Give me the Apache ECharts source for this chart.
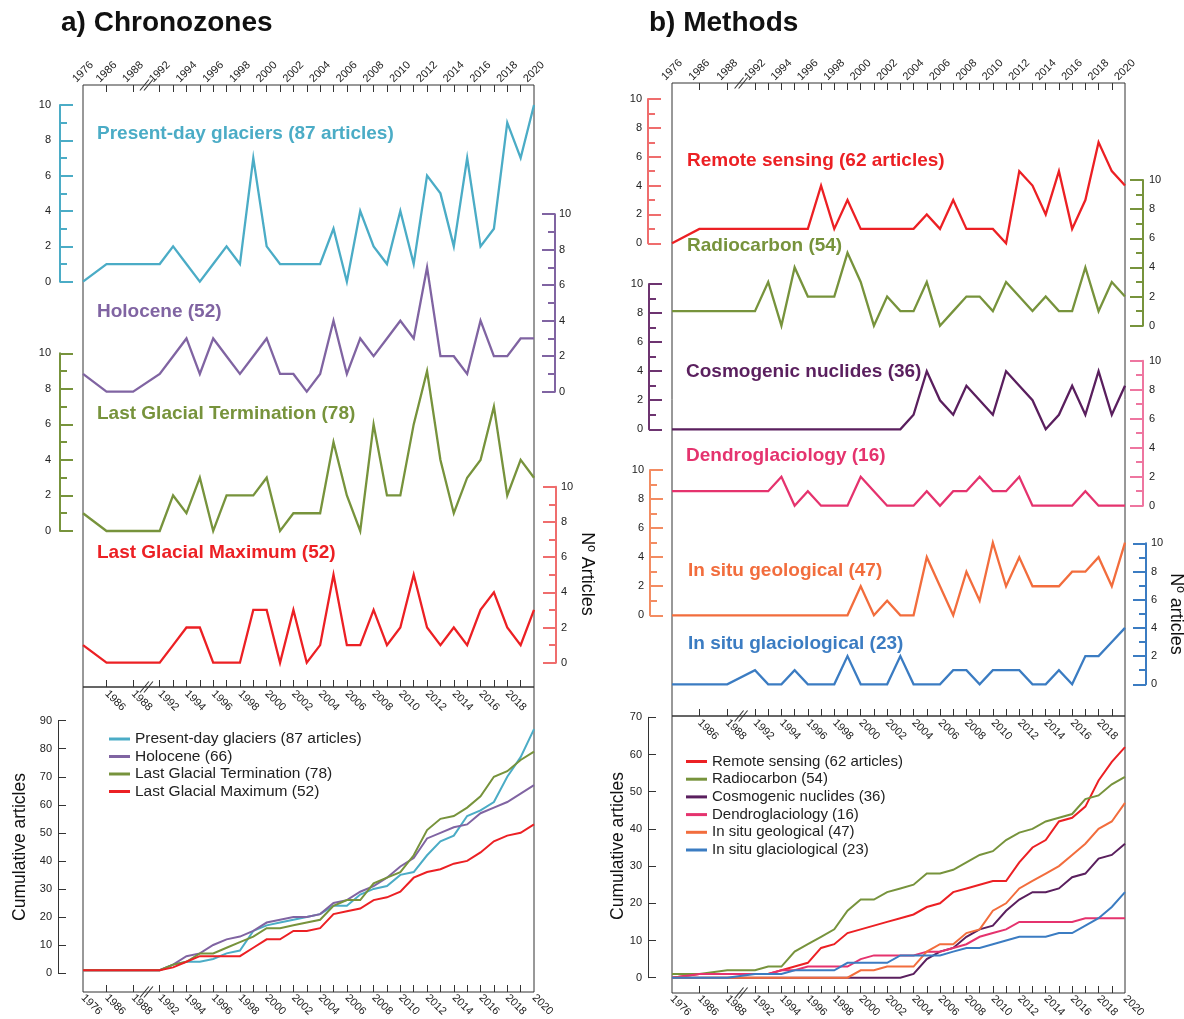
<!DOCTYPE html>
<html>
<head>
<meta charset="utf-8">
<script src="https://cdn.jsdelivr.net/npm/echarts@6/dist/echarts.min.js"></script>
<style>html,body{margin:0;padding:0;background:#fff}#c{width:1184px;height:1019px}</style>
</head>
<body>
<div id="c"></div>
<script>
// ---------------- DATA ----------------
const years = [1976,1986,1988,1992,1993,1994,1995,1996,1997,1998,1999,2000,2001,2002,2003,2004,2005,2006,2007,2008,2009,2010,2011,2012,2013,2014,2015,2016,2017,2018,2019,2020];
const tickYears = [1986,1988,1992,1993,1994,1995,1996,1997,1998,1999,2000,2001,2002,2003,2004,2005,2006,2007,2008,2009,2010,2011,2012,2013,2014,2015,2016,2017,2018,2019];
const labelYearsOuter = [1976,1986,1988,1992,1994,1996,1998,2000,2002,2004,2006,2008,2010,2012,2014,2016,2018,2020];
const labelYearsInner = [1986,1988,1992,1994,1996,1998,2000,2002,2004,2006,2008,2010,2012,2014,2016,2018];

// Panel a: annual articles per chronozone
const presentDay   = [0,1,1,1, 2,1,0,1,2,1,7,2,1,1,1,1,3,0,4,2,1,4,1,6,5,2,7,2,3,9,7,10];
const holocene     = [1,0,0,1, 2,3,1,3,2,1,2,3,1,1,0,1,4,1,3,2,3,4,3,7,2,2,1,4,2,2,3,3];
const lastGlacialTerm = [1,0,0,0, 2,1,3,0,2,2,2,3,0,1,1,1,5,2,0,6,2,2,6,9,4,1,3,4,7,2,4,3];
const lastGlacialMax  = [1,0,0,0, 1,2,2,0,0,0,3,3,0,3,0,1,5,1,1,3,1,2,5,2,1,2,1,3,4,2,1,3];
// Panel a: cumulative
const cumPresentDay = [1,1,1,1, 3,4,4,5,7,8,15,17,18,19,20,21,24,24,28,30,31,35,36,42,47,49,56,58,61,70,77,87];
const cumHolocene   = [1,1,1,1, 3,6,7,10,12,13,15,18,19,20,20,21,25,26,29,31,34,38,41,48,50,52,53,57,59,61,64,67];
const cumLGT        = [1,1,1,1, 3,4,7,7,9,11,13,16,16,17,18,19,24,26,26,32,34,36,42,51,55,56,59,63,70,72,76,79];
const cumLGM        = [1,1,1,1, 2,4,6,6,6,6,9,12,12,15,15,16,21,22,23,26,27,29,34,36,37,39,40,43,47,49,50,53];

// Panel b: annual articles per method
const remoteSensing = [0,1,1,1, 1,1,1,1,4,1,3,1,1,1,1,1,2,1,3,1,1,1,0,5,4,2,5,1,3,7,5,4];
const radiocarbon   = [1,1,1,1, 3,0,4,2,2,2,5,3,0,2,1,1,3,0,1,2,2,1,3,2,1,2,1,1,4,1,3,2];
const cosmogenic    = [0,0,0,0, 0,0,0,0,0,0,0,0,0,0,0,1,4,2,1,3,2,1,4,3,2,0,1,3,1,4,1,3];
const dendro        = [1,1,1,1, 1,2,0,1,0,0,0,2,1,0,0,0,1,0,1,1,2,1,1,2,0,0,0,0,1,0,0,0];
const inSituGeo     = [0,0,0,0, 0,0,0,0,0,0,0,2,0,1,0,0,4,2,0,3,1,5,2,4,2,2,2,3,3,4,2,5];
const inSituGlacio  = [0,0,0,1, 0,0,1,0,0,0,2,0,0,0,2,0,0,0,1,1,0,1,1,1,0,0,1,0,2,2,3,4];
// Panel b: cumulative
const cumRemote  = [0,1,1,1, 1,2,3,4,8,9,12,13,14,15,16,17,19,20,23,24,25,26,26,31,35,37,42,43,46,53,58,62];
const cumRadio   = [1,1,2,2, 3,3,7,9,11,13,18,21,21,23,24,25,28,28,29,31,33,34,37,39,40,42,43,44,48,49,52,54];
const cumCosmo   = [0,0,0,0, 0,0,0,0,0,0,0,0,0,0,0,1,5,7,8,11,13,14,18,21,23,23,24,27,28,32,33,36];
const cumDendro  = [0,1,1,1, 1,2,2,3,3,3,3,5,6,6,6,6,7,7,8,9,11,12,13,15,15,15,15,15,16,16,16,16];
const cumGeo     = [0,0,0,0, 0,0,0,0,0,0,0,2,2,3,3,3,7,9,9,12,13,18,20,24,26,28,30,33,36,40,42,47];
const cumGlacio  = [0,0,0,1, 1,1,2,2,2,2,4,4,4,4,6,6,6,6,7,8,8,9,10,11,11,11,12,12,14,16,19,23];

// ---------------- BROKEN YEAR AXIS (scale definition) ----------------
// positions of 1986, 1988 and 1992 on a "one unit = one year" axis starting at 1976
const breakA = [1.76, 3.75, 5.74];
const breakB = [2.07, 4.18, 6.28];
function axisPos(y, br) {
  if (y <= 1986) return (y - 1976) / 10 * br[0];
  if (y <= 1988) return br[0] + (y - 1986) / 2 * (br[1] - br[0]);
  if (y <= 1992) return br[1] + (y - 1988) / 4 * (br[2] - br[1]);
  return br[2] + (y - 1992);
}
function yearLabel(v, br) {
  for (const y of labelYearsOuter) if (Math.abs(axisPos(y, br) - v) < 1e-6) return String(y);
  return '';
}

// ---------------- STYLE ----------------
const FONT = '"Liberation Sans", Arial, Helvetica, sans-serif';
const C = {
  pd: '#4bacc6', hol: '#8064a2', lgt: '#77933c', lgm: '#ec2024',
  rs: '#ec2024', rc: '#77933c', cn: '#5a1f5e', dg: '#e5336e', geo: '#f26d3d', gla: '#3b7cc2'
};
const AXC = {
  pd: '#4bacc6', hol: '#8064a2', lgt: '#77933c', lgm: '#ef6d6d',
  rs: '#ef6d6d', rc: '#77933c', cn: '#6d3470', dg: '#ee76a0', geo: '#f38c62', gla: '#3b7cc2'
};

const P = {
  A: {left: 83, right: 534, top: 85, mid: 687, bottom: 992, br: breakA},
  B: {left: 672, right: 1125, top: 83, mid: 716, bottom: 993, br: breakB}
};

const grids = [], xAxes = [], yAxes = [], series = [];
function addGrid(top, bottom, p) {
  grids.push({left: p.left, top: top, width: p.right - p.left, height: bottom - top,
    containLabel: false, outerBoundsMode: 'none', show: false});
  return grids.length - 1;
}
function hiddenX(gi, p) {
  xAxes.push({type: 'value', gridIndex: gi, min: 0, max: axisPos(2020, p.br), show: false,
    axisLine: {onZero: false}, splitLine: {show: false}});
  return xAxes.length - 1;
}
function hiddenY(gi) {
  yAxes.push({type: 'value', gridIndex: gi, min: 0, max: 1, show: false, axisLine: {onZero: false}, splitLine: {show: false}});
  return yAxes.length - 1;
}
function frameX(gi, p, position, labelYears, labelOpts) {
  xAxes.push({type: 'value', gridIndex: gi, position: position, min: 0, max: axisPos(2020, p.br),
    axisLine: {show: false, onZero: false}, splitLine: {show: false},
    axisTick: {show: true, inside: true, length: 7, lineStyle: {color: '#333', width: 1},
      customValues: tickYears.map(y => axisPos(y, p.br))},
    axisLabel: Object.assign({show: true, fontSize: 11, color: '#222', fontFamily: FONT,
      customValues: labelYears.map(y => axisPos(y, p.br)), formatter: v => yearLabel(v, p.br)}, labelOpts)
  });
  return xAxes.length - 1;
}

function addFrame(p) {
  // upper box
  const g1 = addGrid(p.top, p.mid, p);
  grids[g1].show = true; grids[g1].borderColor = '#333'; grids[g1].borderWidth = 1; grids[g1].backgroundColor = 'transparent';
  const xt = frameX(g1, p, 'top', labelYearsOuter, {rotate: -45, margin: 13, align: 'center', verticalAlign: 'middle'});
  frameX(g1, p, 'bottom', labelYearsInner, {rotate: -45, margin: 5});
  hiddenY(g1);
  // lower box
  const g2 = addGrid(p.mid, p.bottom, p);
  grids[g2].show = true; grids[g2].borderColor = '#333'; grids[g2].borderWidth = 1; grids[g2].backgroundColor = 'transparent';
  frameX(g2, p, 'bottom', labelYearsOuter, {rotate: -45, margin: 4});
  hiddenY(g2);
  return xt;
}

function addSpark(p, y10, y0, side, lineX, key, values, labelMargin) {
  const gi = addGrid(y10, y0, p);
  const xi = hiddenX(gi, p);
  const offset = side === 'left' ? p.left - lineX : lineX - p.right;
  yAxes.push({type: 'value', gridIndex: gi, position: side, offset: offset, min: 0, max: 10, interval: 2,
    axisLine: {show: true, onZero: false, lineStyle: {color: AXC[key], width: 2}},
    axisTick: {show: true, inside: true, length: 13, lineStyle: {color: AXC[key], width: 2}},
    minorTick: {show: true, splitNumber: 2, length: 7, lineStyle: {color: AXC[key], width: 2}},
    splitLine: {show: false}, minorSplitLine: {show: false},
    axisLabel: {show: true, margin: labelMargin, fontSize: 11, color: '#222', fontFamily: FONT}
  });
  const yi = yAxes.length - 1;
  series.push({type: 'line', name: key + '-annual', xAxisIndex: xi, yAxisIndex: yi,
    data: years.map((y, i) => [axisPos(y, p.br), values[i]]),
    symbol: 'none', silent: true, clip: false, color: C[key],
    lineStyle: {color: C[key], width: 2.3, join: 'miter'}, z: 3});
}

function addCum(p, y10top, y0, maxV, lineX, list) {
  const gi = addGrid(y10top, y0, p);
  const xi = hiddenX(gi, p);
  yAxes.push({type: 'value', gridIndex: gi, position: 'left', offset: p.left - lineX, min: 0, max: maxV, interval: 10,
    axisLine: {show: true, onZero: false, lineStyle: {color: '#333', width: 1}},
    axisTick: {show: true, inside: true, length: 8, lineStyle: {color: '#333', width: 1}},
    splitLine: {show: false},
    axisLabel: {show: true, margin: 6, fontSize: 11, color: '#222', fontFamily: FONT}
  });
  const yi = yAxes.length - 1;
  list.forEach(s => {
    series.push({type: 'line', name: s.name, xAxisIndex: xi, yAxisIndex: yi,
      data: years.map((y, i) => [axisPos(y, p.br), s.values[i]]),
      symbol: 'none', silent: true, clip: false, color: C[s.key],
      lineStyle: {color: C[s.key], width: 2, join: 'miter'}, z: 3});
  });
}

// ---------- Panel a ----------
const frameTopA = addFrame(P.A);
addSpark(P.A, 105, 281.7, 'left', 60, 'pd', presentDay, 9);
addSpark(P.A, 214.2, 391.7, 'right', 555, 'hol', holocene, 4);
addSpark(P.A, 353.3, 531, 'left', 60, 'lgt', lastGlacialTerm, 9);
addSpark(P.A, 486.7, 662.7, 'right', 556, 'lgm', lastGlacialMax, 5);
const namesA = ['Present-day glaciers (87 articles)', 'Holocene (66)', 'Last Glacial Termination (78)', 'Last Glacial Maximum (52)'];
addCum(P.A, 720.7, 973, 90, 58, [
  {name: namesA[0], key: 'pd', values: cumPresentDay},
  {name: namesA[1], key: 'hol', values: cumHolocene},
  {name: namesA[2], key: 'lgt', values: cumLGT},
  {name: namesA[3], key: 'lgm', values: cumLGM}
]);

// ---------- Panel b ----------
const frameTopB = addFrame(P.B);
addSpark(P.B, 99, 243.3, 'left', 648, 'rs', remoteSensing, 6);
addSpark(P.B, 180, 325.7, 'right', 1143, 'rc', radiocarbon, 6);
addSpark(P.B, 284, 429.3, 'left', 649, 'cn', cosmogenic, 6);
addSpark(P.B, 360.7, 505.7, 'right', 1143, 'dg', dendro, 6);
addSpark(P.B, 470, 615.3, 'left', 650, 'geo', inSituGeo, 6);
addSpark(P.B, 543.3, 684.3, 'right', 1146, 'gla', inSituGlacio, 5);
const namesB = ['Remote sensing (62 articles)', 'Radiocarbon (54)', 'Cosmogenic nuclides (36)', 'Dendroglaciology (16)', 'In situ geological (47)', 'In situ glaciological (23)'];
addCum(P.B, 717.3, 977.7, 70, 648, [
  {name: namesB[0], key: 'rs', values: cumRemote},
  {name: namesB[1], key: 'rc', values: cumRadio},
  {name: namesB[2], key: 'cn', values: cumCosmo},
  {name: namesB[3], key: 'dg', values: cumDendro},
  {name: namesB[4], key: 'geo', values: cumGeo},
  {name: namesB[5], key: 'gla', values: cumGlacio}
]);

// ---------------- TEXT ----------------
function txt(text, x, y, color, size, weight, opts) {
  opts = opts || {};
  return {type: 'text', x: x, y: y, rotation: opts.rotation || 0, silent: true, z: 10,
    style: {text: text, fill: color, fontSize: size, fontWeight: weight, fontFamily: FONT,
      align: opts.align || 'left', verticalAlign: 'middle',
      textAlign: opts.align || 'left', textVerticalAlign: 'middle'}};
}
const texts = [
  txt('a) Chronozones', 61, 23, '#111', 28, 'bold'),
  txt('b) Methods', 649, 23, '#111', 28, 'bold'),
  txt('Present-day glaciers (87 articles)', 97, 134, C.pd, 19, 'bold'),
  txt('Holocene (52)', 97, 312, C.hol, 19, 'bold'),
  txt('Last Glacial Termination (78)', 97, 413.5, C.lgt, 19, 'bold'),
  txt('Last Glacial Maximum (52)', 97, 553, C.lgm, 19, 'bold'),
  txt('Remote sensing (62 articles)', 687, 161, C.rs, 19, 'bold'),
  txt('Radiocarbon (54)', 687, 246, C.rc, 19, 'bold'),
  txt('Cosmogenic nuclides (36)', 686, 372, C.cn, 19, 'bold'),
  txt('Dendroglaciology (16)', 686, 456, C.dg, 19, 'bold'),
  txt('In situ geological (47)', 688, 571, C.geo, 19, 'bold'),
  txt('In situ glaciological (23)', 688, 643.5, C.gla, 19, 'bold'),
  txt('Nº Articles', 587, 574, '#111', 18, 'normal', {rotation: -Math.PI / 2, align: 'center'}),
  txt('Nº articles', 1176, 614, '#111', 18, 'normal', {rotation: -Math.PI / 2, align: 'center'}),
  txt('Cumulative articles', 20, 847, '#111', 17.5, 'normal', {rotation: Math.PI / 2, align: 'center'}),
  txt('Cumulative articles', 618, 846, '#111', 17.5, 'normal', {rotation: Math.PI / 2, align: 'center'})
];

const option = {
  animation: false,
  backgroundColor: '#fff',
  textStyle: {fontFamily: FONT},
  grid: grids, xAxis: xAxes, yAxis: yAxes, series: series,
  legend: [
    {data: namesA, orient: 'vertical', left: 109, top: 731, padding: 0, itemWidth: 21, itemHeight: 3, icon: 'rect',
     itemGap: 1.5, selectedMode: false, textStyle: {fontSize: 15.5, lineHeight: 16, color: '#222', fontFamily: FONT}},
    {data: namesB, orient: 'vertical', left: 686, top: 753.5, padding: 0, itemWidth: 21, itemHeight: 3, icon: 'rect',
     itemGap: 1.7, selectedMode: false, textStyle: {fontSize: 15, lineHeight: 16, color: '#222', fontFamily: FONT}}
  ],
  graphic: {elements: texts}
};

const chart = echarts.init(document.getElementById('c'), null, {renderer: 'canvas', width: 1184, height: 1019});
chart.setOption(option);

// axis-break marks "//" on the year axes
const marks = [];
[[frameTopA, P.A], [frameTopB, P.B]].forEach(([xi, p]) => {
  const px = chart.convertToPixel({xAxisIndex: xi}, axisPos(1990, p.br));
  [p.top, p.mid, p.bottom].forEach(yy => {
    [-2, 2].forEach(dx => {
      marks.push({type: 'line', silent: true, z: 12,
        shape: {x1: px + dx - 4.5, y1: yy + 5.5, x2: px + dx + 4.5, y2: yy - 5.5},
        style: {stroke: '#333', lineWidth: 1.1}});
    });
  });
});
chart.setOption({graphic: {elements: texts.concat(marks)}});
</script>
</body>
</html>
